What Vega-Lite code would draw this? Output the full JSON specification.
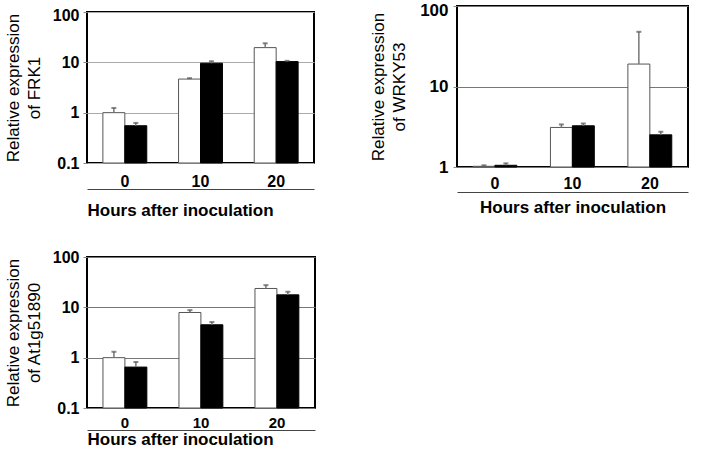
{
  "$schema": "https://vega.github.io/schema/vega-lite/v6.json",
  "background": "white",
  "padding": {"left": 3, "top": 0, "right": 0, "bottom": 0},
  "config": {
    "font": "Liberation Sans",
    "view": {"stroke": "black", "strokeWidth": 2},
    "axisY": {
      "domain": false,
      "ticks": true,
      "tickSize": 4,
      "tickColor": "#888",
      "labelFont": "Liberation Sans",
      "labelFontSize": 16,
      "labelFontWeight": "bold",
      "labelColor": "black",
      "labelPadding": 4,
      "titleFont": "Liberation Sans",
      "titleFontSize": 17,
      "titleFontWeight": "normal",
      "titleColor": "black",
      "titleLineHeight": 21,
      "titlePadding": 6
    },
    "axisX": {
      "domain": true,
      "domainColor": "#444",
      "domainWidth": 1,
      "ticks": false,
      "tickSize": 0,
      "grid": false,
      "labelAngle": 0,
      "labelFont": "Liberation Sans",
      "labelFontSize": 16,
      "labelFontWeight": "bold",
      "labelColor": "black",
      "titleFont": "Liberation Sans",
      "titleFontSize": 17,
      "titleFontWeight": "bold",
      "titleColor": "black"
    }
  },
  "datasets": {
    "expr": [
      {"gene": "FRK1", "hour": 0, "series": "open", "value": 1.0, "err": 1.24},
      {"gene": "FRK1", "hour": 0, "series": "filled", "value": 0.55, "err": 0.625},
      {"gene": "FRK1", "hour": 10, "series": "open", "value": 4.65, "err": 4.85},
      {"gene": "FRK1", "hour": 10, "series": "filled", "value": 9.6, "err": 10.5},
      {"gene": "FRK1", "hour": 20, "series": "open", "value": 19.6, "err": 23.9},
      {"gene": "FRK1", "hour": 20, "series": "filled", "value": 10.35, "err": 10.7},
      {"gene": "WRKY53", "hour": 0, "series": "open", "value": 1.02, "err": 1.05},
      {"gene": "WRKY53", "hour": 0, "series": "filled", "value": 1.05, "err": 1.11},
      {"gene": "WRKY53", "hour": 10, "series": "open", "value": 3.1, "err": 3.38},
      {"gene": "WRKY53", "hour": 10, "series": "filled", "value": 3.25, "err": 3.48},
      {"gene": "WRKY53", "hour": 20, "series": "open", "value": 19.0, "err": 47.8},
      {"gene": "WRKY53", "hour": 20, "series": "filled", "value": 2.51, "err": 2.74},
      {"gene": "At1g51890", "hour": 0, "series": "open", "value": 1.0, "err": 1.31},
      {"gene": "At1g51890", "hour": 0, "series": "filled", "value": 0.65, "err": 0.82},
      {"gene": "At1g51890", "hour": 10, "series": "open", "value": 7.9, "err": 8.8},
      {"gene": "At1g51890", "hour": 10, "series": "filled", "value": 4.5, "err": 5.1},
      {"gene": "At1g51890", "hour": 20, "series": "open", "value": 23.7, "err": 27.6},
      {"gene": "At1g51890", "hour": 20, "series": "filled", "value": 17.7, "err": 20.4}
    ]
  },
  "spacing": 23,
  "vconcat": [
    {
      "spacing": 53,
      "center": true,
      "hconcat": [
        {
          "width": 227,
          "height": 151,
          "data": {"name": "expr"},
          "transform": [{"filter": "datum.gene === 'FRK1'"}],
          "encoding": {
            "x": {"field": "hour", "type": "ordinal", "scale": {"paddingInner": 0.42, "paddingOuter": 0.21},
              "axis": {"offset": 26, "labelPadding": -16, "title": "Hours after inoculation", "titlePadding": 13, "titleAnchor": "start"}},
            "xOffset": {"field": "series", "type": "nominal", "sort": ["open", "filled"], "scale": {"paddingInner": 0, "paddingOuter": 0}}
          },
          "layer": [
            {
              "mark": {"type": "bar", "strokeWidth": 1},
              "encoding": {
                "y": {"field": "value", "type": "quantitative", "scale": {"type": "log", "domain": [0.1, 100], "nice": false},
                  "axis": {"values": [0.1, 1, 10, 100], "format": "~g", "grid": true, "gridColor": "#aaa", "gridWidth": 1, "titlePadding": 9,
                    "labelOffset": {"condition": {"test": "datum.value == 100", "value": 3}, "value": 0},
                    "title": ["Relative expression", "of FRK1"]}},
                "y2": {"datum": 0.1},
                "fill": {"field": "series", "type": "nominal", "scale": {"domain": ["open", "filled"], "range": ["white", "black"]}, "legend": null},
                "stroke": {"field": "series", "type": "nominal", "scale": {"domain": ["open", "filled"], "range": ["#555", "black"]}, "legend": null}
              }
            },
            {
              "mark": {"type": "rule", "color": "#777", "strokeWidth": 1.5},
              "encoding": {
                "y": {"field": "value", "type": "quantitative", "title": ["Relative expression", "of FRK1"]},
                "y2": {"field": "err"}
              }
            },
            {
              "mark": {"type": "tick", "orient": "horizontal", "color": "#555", "size": 5, "thickness": 2},
              "encoding": {"y": {"field": "err", "type": "quantitative", "title": ["Relative expression", "of FRK1"]}}
            }
          ]
        },
        {
          "width": 231,
          "height": 161,
          "title": {"text": " ", "orient": "bottom", "fontSize": 9, "offset": 0},
          "data": {"name": "expr"},
          "transform": [{"filter": "datum.gene === 'WRKY53'"}],
          "encoding": {
            "x": {"field": "hour", "type": "ordinal", "scale": {"paddingInner": 0.43, "paddingOuter": 0.206},
              "axis": {"offset": 25, "labelPadding": -17, "title": "Hours after inoculation", "titlePadding": 7}},
            "xOffset": {"field": "series", "type": "nominal", "sort": ["open", "filled"], "scale": {"paddingInner": 0, "paddingOuter": 0}}
          },
          "layer": [
            {
              "mark": {"type": "bar", "strokeWidth": 1},
              "encoding": {
                "y": {"field": "value", "type": "quantitative", "scale": {"type": "log", "domain": [1, 100], "nice": false},
                  "axis": {"values": [1, 10, 100], "format": "~g", "grid": true, "gridColor": "#777", "gridWidth": 1, "labelFontSize": 17, "labelPadding": 5, "titlePadding": 11,
                    "labelOffset": {"condition": {"test": "datum.value == 100", "value": 4}, "value": 0},
                    "title": ["Relative expression", "of WRKY53"]}},
                "y2": {"datum": 1},
                "fill": {"field": "series", "type": "nominal", "scale": {"domain": ["open", "filled"], "range": ["white", "black"]}, "legend": null},
                "stroke": {"field": "series", "type": "nominal", "scale": {"domain": ["open", "filled"], "range": ["#555", "black"]}, "legend": null}
              }
            },
            {
              "mark": {"type": "rule", "color": "#777", "strokeWidth": 1.5},
              "encoding": {
                "y": {"field": "value", "type": "quantitative", "title": ["Relative expression", "of WRKY53"]},
                "y2": {"field": "err"}
              }
            },
            {
              "mark": {"type": "tick", "orient": "horizontal", "color": "#555", "size": 5, "thickness": 2},
              "encoding": {"y": {"field": "err", "type": "quantitative", "title": ["Relative expression", "of WRKY53"]}}
            }
          ]
        }
      ]
    },
    {
      "width": 228,
      "height": 151,
      "data": {"name": "expr"},
      "transform": [{"filter": "datum.gene === 'At1g51890'"}],
      "encoding": {
        "x": {"field": "hour", "type": "ordinal", "scale": {"paddingInner": 0.42, "paddingOuter": 0.21},
          "axis": {"offset": 22, "labelPadding": -15, "labelFontSize": 15, "title": "Hours after inoculation", "titlePadding": 1, "titleAnchor": "start"}},
        "xOffset": {"field": "series", "type": "nominal", "sort": ["open", "filled"], "scale": {"paddingInner": 0, "paddingOuter": 0}}
      },
      "layer": [
        {
          "mark": {"type": "bar", "strokeWidth": 1},
          "encoding": {
            "y": {"field": "value", "type": "quantitative", "scale": {"type": "log", "domain": [0.1, 100], "nice": false},
              "axis": {"values": [0.1, 1, 10, 100], "format": "~g", "grid": true, "gridColor": "#777", "gridWidth": 1, "titlePadding": 9, "title": ["Relative expression", "of At1g51890"]}},
            "y2": {"datum": 0.1},
            "fill": {"field": "series", "type": "nominal", "scale": {"domain": ["open", "filled"], "range": ["white", "black"]}, "legend": null},
            "stroke": {"field": "series", "type": "nominal", "scale": {"domain": ["open", "filled"], "range": ["#555", "black"]}, "legend": null}
          }
        },
        {
          "mark": {"type": "rule", "color": "#777", "strokeWidth": 1.5},
          "encoding": {
            "y": {"field": "value", "type": "quantitative", "title": ["Relative expression", "of At1g51890"]},
            "y2": {"field": "err"}
          }
        },
        {
          "mark": {"type": "tick", "orient": "horizontal", "color": "#555", "size": 5, "thickness": 2},
          "encoding": {"y": {"field": "err", "type": "quantitative", "title": ["Relative expression", "of At1g51890"]}}
        }
      ]
    }
  ]
}
